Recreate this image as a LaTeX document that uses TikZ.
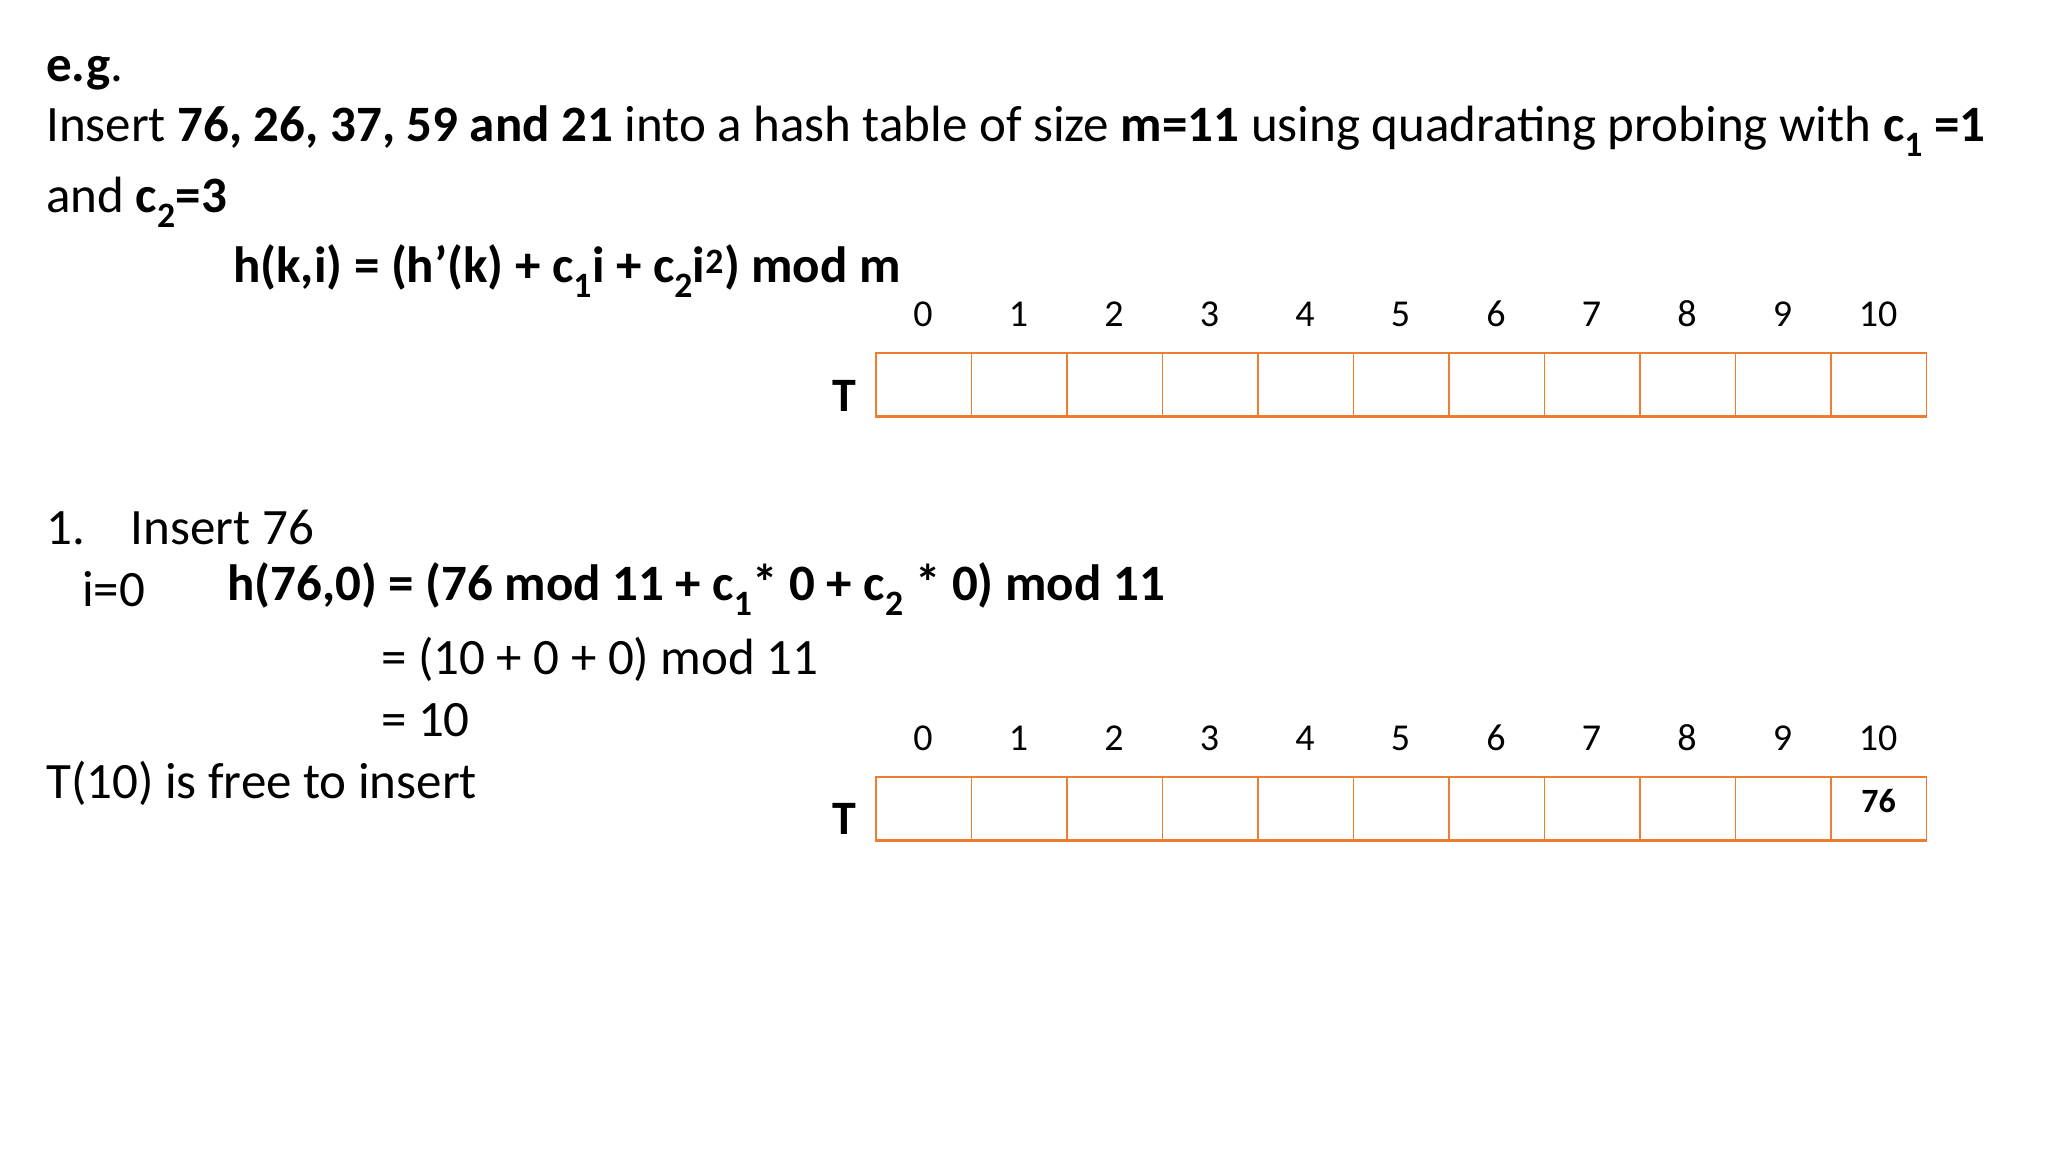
\documentclass[tikz,border=0pt]{standalone}
\usepackage{fontspec}
\setmainfont{Carlito}
\begin{document}
\begin{tikzpicture}[x=1pt,y=-1pt,
  txt/.style={anchor=west,inner sep=0pt,font=\fontsize{51}{58}\selectfont},
  idx/.style={inner sep=0pt,font=\fontsize{38}{42}\selectfont},
  cell/.style={draw=orange!80!red!90!black,line width=1.5pt,minimum width=95.5pt,minimum height=63pt,inner sep=0pt,anchor=north west,font=\bfseries\fontsize{34}{40}\selectfont}]
\definecolor{tabor}{HTML}{ED7D31}
\useasboundingbox (0,0) rectangle (2048,1152);
\node[txt] (l1) at (46,73) {\textbf{e.g}.};
\node[txt] (l2) at (46,131) {Insert \textbf{76, 26, 37, 59 and 21} into a hash table of size \textbf{m=11} using quadrating probing with \textbf{c\textsubscript{1} =1}};
\node[txt] (l3) at (46,202) {and \textbf{c\textsubscript{2}=3}};
\node[txt] (f) at (233,271) {\textbf{h(k,i) = (h’(k) + c\textsubscript{1}i + c\textsubscript{2}i\textsuperscript{2}) mod m}};
\node[txt] (s1) at (46,527) {1.\hspace{0.6em} Insert 76};
\node[txt] (s2) at (82,589) {i=0};
\node[txt] (s3) at (227,589) {\textbf{h(76,0) = (76 mod 11 + c\textsubscript{1}* 0 + c\textsubscript{2} * 0) mod 11}};
\node[txt] (s4) at (381,659) {= (10 + 0 + 0) mod 11};
\node[txt] (s5) at (381,720) {= 10};
\node[txt] (s6) at (46,783) {T(10) is free to insert};
\foreach \r/\ty/\iy/\tl in {a/352/314/396, b/776/738/819}{
  \node[txt,font=\bfseries\fontsize{48}{50}\selectfont] (T\r) at (832,\tl) {T};
  \foreach \i in {0,...,10}{
    \node[cell,draw=tabor] (c\r\i) at ({875+95.5*\i},\ty) {};
    \node[idx] (i\r\i) at ({875+95.5*\i+48},\iy) {\i};
  }
  \draw[tabor,line width=3.5pt] (c\r0.south west) -- (c\r10.south east);
}
\node[font=\bfseries\fontsize{34}{40}\selectfont,inner sep=0pt] (v76) at ([yshift=-25pt]cb10.north) {76};
\end{tikzpicture}
\end{document}
